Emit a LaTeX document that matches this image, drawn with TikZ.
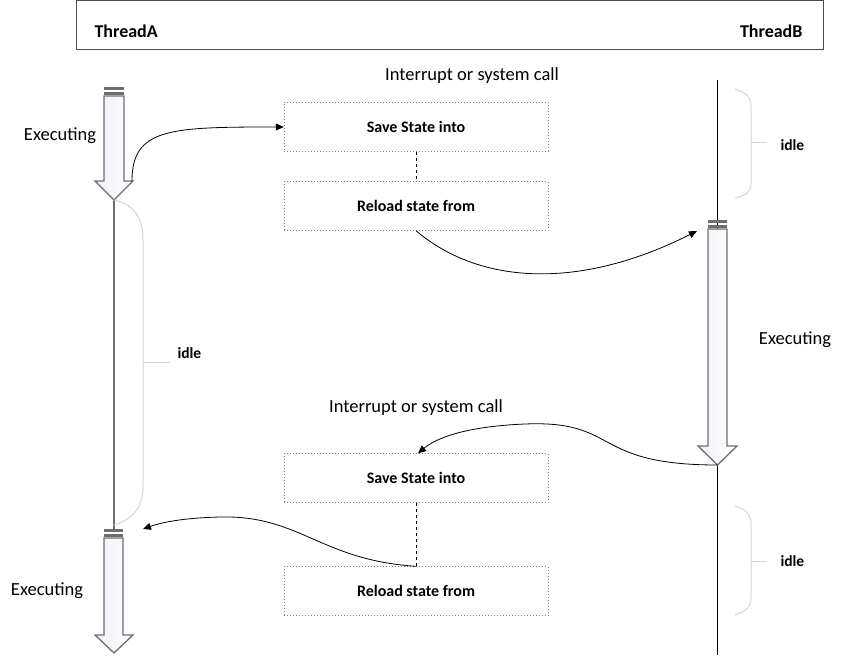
\documentclass[tikz,border=0pt]{standalone}
\usepackage{fontspec}
\setmainfont{Carlito}
\usetikzlibrary{arrows.meta}
\definecolor{arrowline}{HTML}{6E6E6E}
\definecolor{arrowfill}{HTML}{EEF1F7}
\definecolor{bracegray}{HTML}{D4D4D4}
\definecolor{boxdot}{HTML}{7F7F7F}

\begin{document}
\begin{tikzpicture}[x=1pt,y=-1pt,
	stbox/.style={draw=boxdot,dash pattern=on 1pt off 2pt,minimum width=264pt,minimum height=49pt,font=\fontsize{16}{19}\selectfont\bfseries},
	head/.style={font=\fontsize{18}{21}\selectfont\bfseries},
	idletxt/.style={font=\fontsize{15.5}{18}\selectfont\bfseries,anchor=west},
	plain/.style={font=\fontsize{18.5}{22}\selectfont},
	brace/.style={draw=bracegray,line width=1pt},
	conn/.style={-{Triangle[length=8pt,width=7pt]},line width=0.8pt},
	fat/.style={draw=arrowline,line width=1.3pt,left color=arrowfill,right color=white,line join=miter}]
	\useasboundingbox (0,0) rectangle (842,655);
	\draw[black!70,line width=1pt] (76.5,1) rectangle (823,50);
	\node[head,anchor=west] (thA) at (91,31) {ThreadA};
	\node[head,anchor=east] (thB) at (806,31) {ThreadB};
	\draw[arrowline,line width=1.5pt] (114,200) -- (114,530);
	\draw[black,line width=1pt] (717.5,80) -- (717.5,655);
	\draw[fat] (104,96) -- (124,96) -- (124,181) -- (133,181) -- (114,200) -- (95,181) -- (104,181) -- cycle;
	\fill[arrowline] (104,87) rectangle (124,90);
	\fill[arrowline] (104,92) rectangle (124,95);
	\draw[fat] (104,538) -- (123,538) -- (123,635) -- (133,635) -- (114,653) -- (95,635) -- (104,635) -- cycle;
	\fill[arrowline] (104,529) rectangle (123,532);
	\fill[arrowline] (104,534) rectangle (123,537);
	\draw[fat] (708,229) -- (727,229) -- (727,446) -- (737,446) -- (717.5,465) -- (698,446) -- (708,446) -- cycle;
	\fill[arrowline] (708,220) rectangle (727,223);
	\fill[arrowline] (708,225) rectangle (727,228);
	\coordinate (aOut) at (132,181);
	\coordinate (aIn) at (143,529);
	\coordinate (bIn) at (697,231);
	\coordinate (bOut) at (717.5,465);
	\node[plain] (int1) at (472,76) {Interrupt or system call};
	\node[stbox] (save1) at (416,127) {Save State into};
	\node[stbox] (load1) at (416,206) {Reload state from};
	\node[plain] (int2) at (416,408) {Interrupt or system call};
	\node[stbox] (save2) at (416,478) {Save State into};
	\node[stbox] (load2) at (416,591) {Reload state from};
	\draw[dashed,line width=1pt] (save1) -- (load1);
	\draw[dashed,line width=1pt] (save2) -- (load2);
	\node[plain] (exA1) at (60,136) {Executing};
	\node[plain] (exB) at (795,340) {Executing};
	\node[plain] (exA2) at (47,591) {Executing};
	\draw[brace] (114,200) .. controls (136,205) and (143,220) .. (143,240) -- (143,485) .. controls (143,505) and (136,518) .. (114,525);
	\draw[brace] (143,362) -- (170,362);
	\node[idletxt] (idleA) at (174,353) {idle};
	\draw[brace] (735,89) .. controls (745,92) and (751,97) .. (751,106) -- (751,184) .. controls (751,192) and (745,196) .. (735,198);
	\draw[brace] (751,143) -- (767,143);
	\node[idletxt] (idleB1) at (777,145) {idle};
	\draw[brace] (735,506) .. controls (745,509) and (751,514) .. (751,523) -- (751,598) .. controls (751,607) and (745,612) .. (735,615);
	\draw[brace] (751,561) -- (767,561);
	\node[idletxt] (idleB2) at (777,561) {idle};
	\draw[conn] (aOut) .. controls (132,128) and (170,127) .. (save1.west);
	\draw[conn] (load1.south) .. controls (480,285) and (580,290) .. (bIn);
	\draw[conn] (bOut) .. controls (590,465) and (620,420) .. (525,424) .. controls (475,426) and (440,435) .. ([xshift=2pt]save2.north);
	\draw[conn] (load2.north) .. controls (320,560) and (300,515) .. (220,517) .. controls (180,518) and (160,523) .. (aIn);
\end{tikzpicture}
\end{document}
